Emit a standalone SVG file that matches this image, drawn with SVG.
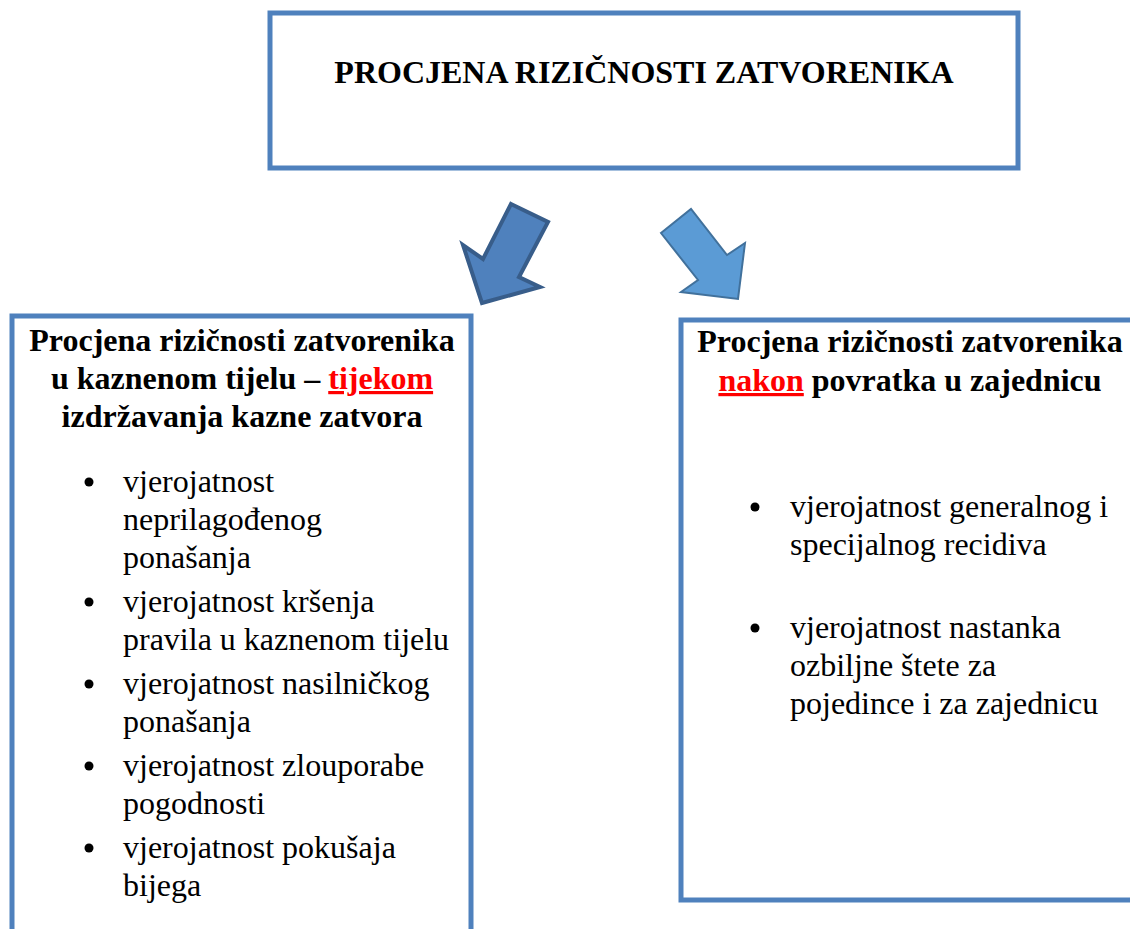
<svg xmlns="http://www.w3.org/2000/svg" width="1130" height="929" viewBox="0 0 1130 929">
<style>
.box{fill:#fff;stroke:#4F81BD;stroke-width:5}
.h{font-family:"Liberation Serif","Times New Roman",serif;font-weight:bold;font-size:32px;fill:#000;text-anchor:middle}
.b{font-family:"Liberation Serif","Times New Roman",serif;font-size:32px;fill:#000}
.red{fill:#FF0000;text-decoration:underline}
</style>
<rect width="1130" height="929" fill="#fff"/>
<g id="title">
<rect class="box" x="270" y="13" width="748" height="155"/>
<text class="h" x="644" y="83">PROCJENA RIZIČNOSTI ZATVORENIKA</text>
</g>
<g id="connectors">
<path d="M511,204 L548,222 L519,277 L540,287 L482,303 L463,245 L483,259 Z" fill="#4F81BD" stroke="#385D8A" stroke-width="4" stroke-linejoin="miter"/>
<path d="M661,233 L691,209 L727,255 L745,243 L738,299 L681,292 L698,280 Z" fill="#5B9BD5" stroke="#41719C" stroke-width="2"/>
</g>
<g id="during">
<rect class="box" x="12" y="316" width="459" height="640"/>
<text class="h" x="242" y="351">Procjena rizičnosti zatvorenika</text>
<text class="h" x="242" y="389">u kaznenom tijelu – <tspan class="red">tijekom</tspan></text>
<text class="h" x="242" y="427">izdržavanja kazne zatvora</text>
<g class="b">
<circle cx="89" cy="482" r="4.5"/>
<text x="123" y="492">vjerojatnost</text>
<text x="123" y="530">neprilagođenog</text>
<text x="123" y="568">ponašanja</text>
<circle cx="89" cy="602" r="4.5"/>
<text x="123" y="612">vjerojatnost kršenja</text>
<text x="123" y="650">pravila u kaznenom tijelu</text>
<circle cx="89" cy="684" r="4.5"/>
<text x="123" y="694">vjerojatnost nasilničkog</text>
<text x="123" y="732">ponašanja</text>
<circle cx="89" cy="766" r="4.5"/>
<text x="123" y="776">vjerojatnost zlouporabe</text>
<text x="123" y="814">pogodnosti</text>
<circle cx="89" cy="848" r="4.5"/>
<text x="123" y="858">vjerojatnost pokušaja</text>
<text x="123" y="896">bijega</text>
</g>
</g>
<g id="after">
<rect class="box" x="681" y="320" width="460" height="580"/>
<text class="h" x="910" y="352">Procjena rizičnosti zatvorenika</text>
<text class="h" x="910" y="391"><tspan class="red">nakon</tspan> povratka u zajednicu</text>
<g class="b">
<circle cx="755" cy="507" r="4.5"/>
<text x="790" y="517">vjerojatnost generalnog i</text>
<text x="790" y="555">specijalnog recidiva</text>
<circle cx="755" cy="628" r="4.5"/>
<text x="790" y="638">vjerojatnost nastanka</text>
<text x="790" y="676">ozbiljne štete za</text>
<text x="790" y="714">pojedince i za zajednicu</text>
</g>
</g>
</svg>
